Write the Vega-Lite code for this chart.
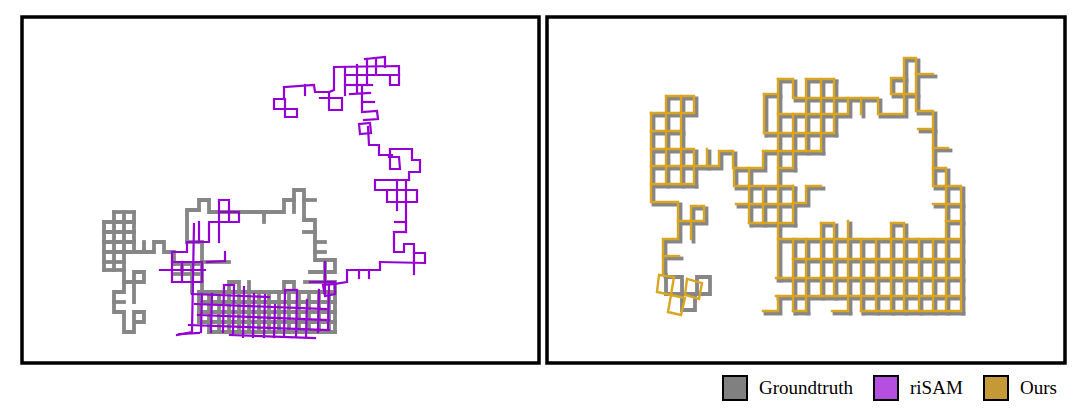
{
"$schema": "https://vega.github.io/schema/vega-lite/v6.json",
"autosize": "pad",
"padding": {"left": 20, "top": 15, "right": 0, "bottom": 0},
"bounds": "flush",
"spacing": 8,
"config": {"view": {"stroke": "black", "strokeWidth": 3.5}, "line": {"strokeCap": "square"}},
"datasets": {
"Lg": [
{"i":1,"x":102,"y":220},{"i":1,"x":102,"y":268},
{"i":2,"x":112,"y":210},{"i":2,"x":112,"y":268},
{"i":3,"x":122,"y":210},{"i":3,"x":122,"y":290},{"i":3,"x":112,"y":290},{"i":3,"x":112,"y":310},{"i":3,"x":122,"y":310},{"i":3,"x":122,"y":330},{"i":3,"x":132,"y":330},{"i":3,"x":132,"y":310},{"i":3,"x":142,"y":310},{"i":3,"x":142,"y":320},{"i":3,"x":132,"y":320},
{"i":4,"x":132,"y":210},{"i":4,"x":132,"y":250},
{"i":5,"x":112,"y":210},{"i":5,"x":132,"y":210},
{"i":6,"x":102,"y":220},{"i":6,"x":132,"y":220},
{"i":7,"x":102,"y":230},{"i":7,"x":132,"y":230},
{"i":8,"x":102,"y":240},{"i":8,"x":132,"y":240},
{"i":9,"x":102,"y":250},{"i":9,"x":152,"y":250},{"i":9,"x":152,"y":240},{"i":9,"x":162,"y":240},{"i":9,"x":162,"y":250},{"i":9,"x":172,"y":250},{"i":9,"x":172,"y":262},
{"i":10,"x":102,"y":260},{"i":10,"x":122,"y":260},
{"i":11,"x":102,"y":268},{"i":11,"x":122,"y":268},
{"i":12,"x":142,"y":240},{"i":12,"x":142,"y":250},
{"i":13,"x":122,"y":280},{"i":13,"x":142,"y":280},{"i":13,"x":142,"y":270},{"i":13,"x":132,"y":270},{"i":13,"x":132,"y":300},
{"i":14,"x":112,"y":300},{"i":14,"x":122,"y":300},
{"i":15,"x":185,"y":240},{"i":15,"x":185,"y":208},{"i":15,"x":197,"y":208},{"i":15,"x":197,"y":198},{"i":15,"x":207,"y":198},{"i":15,"x":207,"y":210},{"i":15,"x":282,"y":210},{"i":15,"x":282,"y":198},{"i":15,"x":292,"y":198},{"i":15,"x":292,"y":188},{"i":15,"x":302,"y":188},{"i":15,"x":302,"y":218},{"i":15,"x":313,"y":218},{"i":15,"x":313,"y":258},{"i":15,"x":323,"y":258},{"i":15,"x":323,"y":280},{"i":15,"x":333,"y":280},{"i":15,"x":333,"y":330},
{"i":16,"x":262,"y":210},{"i":16,"x":262,"y":220},
{"i":18,"x":292,"y":198},{"i":18,"x":292,"y":210},
{"i":19,"x":302,"y":198},{"i":19,"x":313,"y":198},
{"i":20,"x":302,"y":230},{"i":20,"x":313,"y":230},
{"i":21,"x":313,"y":240},{"i":21,"x":323,"y":240},
{"i":22,"x":313,"y":250},{"i":22,"x":323,"y":250},
{"i":23,"x":323,"y":258},{"i":23,"x":333,"y":258},{"i":23,"x":333,"y":270},{"i":23,"x":308,"y":270},
{"i":25,"x":172,"y":262},{"i":25,"x":200,"y":262},
{"i":26,"x":172,"y":272},{"i":26,"x":200,"y":272},
{"i":27,"x":180,"y":262},{"i":27,"x":180,"y":272},
{"i":28,"x":190,"y":262},{"i":28,"x":190,"y":290},
{"i":29,"x":200,"y":240},{"i":29,"x":200,"y":290},
{"i":30,"x":185,"y":240},{"i":30,"x":200,"y":240},
{"i":31,"x":200,"y":260},{"i":31,"x":227,"y":260},
{"i":32,"x":197,"y":290},{"i":32,"x":333,"y":290},
{"i":33,"x":197,"y":300},{"i":33,"x":333,"y":300},
{"i":34,"x":197,"y":310},{"i":34,"x":333,"y":310},
{"i":35,"x":197,"y":320},{"i":35,"x":333,"y":320},
{"i":36,"x":207,"y":330},{"i":36,"x":333,"y":330},
{"i":37,"x":197,"y":290},{"i":37,"x":197,"y":320},
{"i":38,"x":207,"y":290},{"i":38,"x":207,"y":330},
{"i":39,"x":217,"y":290},{"i":39,"x":217,"y":330},
{"i":40,"x":227,"y":290},{"i":40,"x":227,"y":330},
{"i":41,"x":237,"y":290},{"i":41,"x":237,"y":330},
{"i":42,"x":247,"y":290},{"i":42,"x":247,"y":330},
{"i":43,"x":257,"y":290},{"i":43,"x":257,"y":330},
{"i":44,"x":267,"y":290},{"i":44,"x":267,"y":330},
{"i":45,"x":277,"y":290},{"i":45,"x":277,"y":330},
{"i":46,"x":287,"y":290},{"i":46,"x":287,"y":330},
{"i":47,"x":297,"y":290},{"i":47,"x":297,"y":330},
{"i":48,"x":307,"y":290},{"i":48,"x":307,"y":330},
{"i":49,"x":317,"y":290},{"i":49,"x":317,"y":330},
{"i":50,"x":327,"y":290},{"i":50,"x":327,"y":330},
{"i":51,"x":227,"y":290},{"i":51,"x":227,"y":280},{"i":51,"x":237,"y":280},{"i":51,"x":237,"y":290},
{"i":52,"x":247,"y":280},{"i":52,"x":247,"y":290},
{"i":53,"x":282,"y":290},{"i":53,"x":282,"y":280},{"i":53,"x":292,"y":280},{"i":53,"x":292,"y":290},
{"i":55,"x":303,"y":280},{"i":55,"x":323,"y":280}
],
"Lp": [
{"i":1,"x":282,"y":85},{"i":1,"x":312,"y":83},{"i":1,"x":313,"y":90},{"i":1,"x":327,"y":90},{"i":1,"x":327,"y":108},{"i":1,"x":340,"y":108},{"i":1,"x":340,"y":96},{"i":1,"x":318,"y":96},
{"i":2,"x":282,"y":85},{"i":2,"x":282,"y":97},{"i":2,"x":272,"y":97},{"i":2,"x":272,"y":107},{"i":2,"x":295,"y":107},{"i":2,"x":295,"y":115},{"i":2,"x":283,"y":115},{"i":2,"x":283,"y":97},
{"i":3,"x":303,"y":83},{"i":3,"x":303,"y":93},
{"i":4,"x":327,"y":90},{"i":4,"x":332,"y":88},{"i":4,"x":332,"y":65},{"i":4,"x":397,"y":64},{"i":4,"x":397,"y":83},{"i":4,"x":388,"y":83},{"i":4,"x":388,"y":73},
{"i":5,"x":343,"y":65},{"i":5,"x":343,"y":93},
{"i":6,"x":355,"y":63},{"i":6,"x":355,"y":90},
{"i":7,"x":365,"y":57},{"i":7,"x":365,"y":83},
{"i":8,"x":374,"y":57},{"i":8,"x":374,"y":73},
{"i":9,"x":363,"y":57},{"i":9,"x":383,"y":55},{"i":9,"x":383,"y":65},
{"i":10,"x":343,"y":73},{"i":10,"x":397,"y":73},
{"i":11,"x":343,"y":83},{"i":11,"x":370,"y":83},
{"i":12,"x":348,"y":92},{"i":12,"x":368,"y":91},
{"i":13,"x":360,"y":83},{"i":13,"x":360,"y":110},{"i":13,"x":375,"y":109},{"i":13,"x":376,"y":117},{"i":13,"x":362,"y":118},
{"i":14,"x":360,"y":100},{"i":14,"x":372,"y":100},
{"i":15,"x":357,"y":122},{"i":15,"x":368,"y":121},{"i":15,"x":369,"y":131},{"i":15,"x":358,"y":132},{"i":15,"x":357,"y":122},
{"i":16,"x":366,"y":125},{"i":16,"x":367,"y":143},{"i":16,"x":377,"y":143},{"i":16,"x":377,"y":153},{"i":16,"x":390,"y":153},
{"i":17,"x":388,"y":147},{"i":17,"x":388,"y":167},{"i":17,"x":398,"y":167},{"i":17,"x":397,"y":155},{"i":17,"x":387,"y":155},
{"i":18,"x":388,"y":147},{"i":18,"x":410,"y":147},{"i":18,"x":410,"y":158},{"i":18,"x":418,"y":158},{"i":18,"x":418,"y":170},{"i":18,"x":407,"y":170},{"i":18,"x":407,"y":178},
{"i":19,"x":407,"y":178},{"i":19,"x":373,"y":178},{"i":19,"x":373,"y":188},{"i":19,"x":415,"y":188},{"i":19,"x":415,"y":200},{"i":19,"x":385,"y":200},{"i":19,"x":385,"y":188},
{"i":20,"x":395,"y":178},{"i":20,"x":395,"y":208},
{"i":21,"x":404,"y":178},{"i":21,"x":404,"y":230},
{"i":22,"x":393,"y":220},{"i":22,"x":404,"y":220},
{"i":23,"x":392,"y":230},{"i":23,"x":404,"y":230},
{"i":24,"x":392,"y":230},{"i":24,"x":392,"y":250},{"i":24,"x":402,"y":250},{"i":24,"x":402,"y":242},{"i":24,"x":412,"y":242},{"i":24,"x":412,"y":251},{"i":24,"x":423,"y":251},{"i":24,"x":423,"y":261},{"i":24,"x":378,"y":260},
{"i":25,"x":412,"y":251},{"i":25,"x":412,"y":272},
{"i":26,"x":378,"y":260},{"i":26,"x":378,"y":268},{"i":26,"x":345,"y":268},{"i":26,"x":345,"y":280},
{"i":27,"x":357,"y":268},{"i":27,"x":357,"y":276},
{"i":28,"x":367,"y":268},{"i":28,"x":367,"y":276},
{"i":29,"x":345,"y":280},{"i":29,"x":333,"y":282},{"i":29,"x":333,"y":292},{"i":29,"x":323,"y":294},{"i":29,"x":321,"y":283},{"i":29,"x":333,"y":282},
{"i":30,"x":323,"y":260},{"i":30,"x":323,"y":292},
{"i":31,"x":308,"y":280},{"i":31,"x":333,"y":280},
{"i":32,"x":217,"y":198},{"i":32,"x":227,"y":198},{"i":32,"x":227,"y":220},
{"i":33,"x":217,"y":198},{"i":33,"x":217,"y":240},
{"i":34,"x":217,"y":210},{"i":34,"x":237,"y":210},{"i":34,"x":237,"y":220},{"i":34,"x":207,"y":220},{"i":34,"x":207,"y":240},{"i":34,"x":185,"y":240},{"i":34,"x":185,"y":250},{"i":34,"x":170,"y":250},{"i":34,"x":170,"y":280},
{"i":35,"x":197,"y":220},{"i":35,"x":197,"y":240},
{"i":36,"x":158,"y":268},{"i":36,"x":203,"y":268},
{"i":37,"x":170,"y":280},{"i":37,"x":200,"y":280},
{"i":38,"x":170,"y":260},{"i":38,"x":200,"y":260},
{"i":39,"x":180,"y":260},{"i":39,"x":180,"y":280},
{"i":40,"x":200,"y":260},{"i":40,"x":200,"y":280},
{"i":41,"x":205,"y":260},{"i":41,"x":223,"y":259},{"i":41,"x":223,"y":250},
{"i":42,"x":192,"y":222},{"i":42,"x":190,"y":330},{"i":42,"x":175,"y":333},
{"i":43,"x":190,"y":292},{"i":43,"x":267,"y":295},
{"i":44,"x":193,"y":302},{"i":44,"x":325,"y":307},
{"i":45,"x":196,"y":313},{"i":45,"x":327,"y":318},
{"i":46,"x":187,"y":323},{"i":46,"x":327,"y":328},
{"i":47,"x":228,"y":333},{"i":47,"x":313,"y":336},
{"i":48,"x":200,"y":292},{"i":48,"x":199,"y":330},
{"i":49,"x":210,"y":292},{"i":49,"x":209,"y":330},
{"i":50,"x":222,"y":283},{"i":50,"x":221,"y":330},
{"i":51,"x":232,"y":283},{"i":51,"x":231,"y":333},
{"i":52,"x":242,"y":285},{"i":52,"x":241,"y":335},
{"i":53,"x":252,"y":292},{"i":53,"x":251,"y":335},
{"i":54,"x":263,"y":293},{"i":54,"x":262,"y":335},
{"i":55,"x":273,"y":303},{"i":55,"x":272,"y":335},
{"i":56,"x":283,"y":288},{"i":56,"x":282,"y":335},
{"i":57,"x":295,"y":288},{"i":57,"x":294,"y":335},
{"i":58,"x":305,"y":298},{"i":58,"x":304,"y":335},
{"i":59,"x":317,"y":288},{"i":59,"x":316,"y":330},
{"i":60,"x":327,"y":283},{"i":60,"x":326,"y":328},
{"i":61,"x":222,"y":283},{"i":61,"x":232,"y":283},
{"i":62,"x":283,"y":288},{"i":62,"x":295,"y":288},
{"i":63,"x":177,"y":332},{"i":63,"x":197,"y":331}
],
"Rb": [
{"i":1,"x":650,"y":112},{"i":1,"x":650,"y":201},{"i":1,"x":677,"y":201},{"i":1,"x":677,"y":238},{"i":1,"x":662,"y":238},{"i":1,"x":662,"y":273},
{"i":2,"x":665,"y":95},{"i":2,"x":665,"y":183},
{"i":3,"x":680,"y":95},{"i":3,"x":680,"y":183},
{"i":4,"x":665,"y":95},{"i":4,"x":693,"y":95},{"i":4,"x":693,"y":112},{"i":4,"x":650,"y":112},
{"i":5,"x":650,"y":130},{"i":5,"x":680,"y":130},
{"i":6,"x":650,"y":148},{"i":6,"x":693,"y":148},{"i":6,"x":693,"y":183},
{"i":7,"x":650,"y":165},{"i":7,"x":718,"y":165},{"i":7,"x":718,"y":150},{"i":7,"x":732,"y":150},{"i":7,"x":732,"y":167},{"i":7,"x":762,"y":167},{"i":7,"x":762,"y":150},{"i":7,"x":820,"y":150},
{"i":8,"x":650,"y":183},{"i":8,"x":693,"y":183},
{"i":9,"x":706,"y":148},{"i":9,"x":706,"y":165},
{"i":10,"x":733,"y":167},{"i":10,"x":733,"y":185},{"i":10,"x":748,"y":185},
{"i":11,"x":748,"y":167},{"i":11,"x":748,"y":222},
{"i":12,"x":748,"y":185},{"i":12,"x":792,"y":185},
{"i":13,"x":792,"y":202},{"i":13,"x":805,"y":202},{"i":13,"x":805,"y":185},{"i":13,"x":820,"y":185},
{"i":14,"x":735,"y":203},{"i":14,"x":792,"y":203},
{"i":15,"x":748,"y":222},{"i":15,"x":792,"y":222},
{"i":16,"x":762,"y":185},{"i":16,"x":762,"y":222},
{"i":17,"x":777,"y":78},{"i":17,"x":777,"y":277},
{"i":18,"x":792,"y":113},{"i":18,"x":792,"y":167},
{"i":19,"x":792,"y":185},{"i":19,"x":792,"y":222},
{"i":20,"x":763,"y":93},{"i":20,"x":763,"y":132},
{"i":21,"x":763,"y":93},{"i":21,"x":777,"y":93},
{"i":22,"x":777,"y":78},{"i":22,"x":792,"y":78},{"i":22,"x":792,"y":97},{"i":22,"x":877,"y":97},{"i":22,"x":877,"y":113},{"i":22,"x":903,"y":113},{"i":22,"x":903,"y":57},{"i":22,"x":915,"y":57},{"i":22,"x":915,"y":110},{"i":22,"x":932,"y":110},{"i":22,"x":932,"y":167},{"i":22,"x":945,"y":167},{"i":22,"x":945,"y":238},
{"i":23,"x":805,"y":78},{"i":23,"x":833,"y":78},
{"i":24,"x":805,"y":78},{"i":24,"x":805,"y":150},
{"i":25,"x":820,"y":78},{"i":25,"x":820,"y":150},
{"i":26,"x":833,"y":78},{"i":26,"x":833,"y":132},
{"i":27,"x":777,"y":113},{"i":27,"x":847,"y":113},{"i":27,"x":847,"y":97},
{"i":28,"x":763,"y":132},{"i":28,"x":833,"y":132},
{"i":29,"x":860,"y":97},{"i":29,"x":860,"y":113},
{"i":30,"x":903,"y":77},{"i":30,"x":890,"y":77},{"i":30,"x":890,"y":93},{"i":30,"x":915,"y":93},
{"i":31,"x":915,"y":73},{"i":31,"x":932,"y":73},
{"i":32,"x":917,"y":128},{"i":32,"x":932,"y":128},
{"i":33,"x":932,"y":147},{"i":33,"x":947,"y":147},
{"i":34,"x":932,"y":167},{"i":34,"x":932,"y":185},{"i":34,"x":960,"y":185},{"i":34,"x":960,"y":310},
{"i":35,"x":932,"y":203},{"i":35,"x":960,"y":203},
{"i":36,"x":945,"y":220},{"i":36,"x":960,"y":220},
{"i":37,"x":777,"y":167},{"i":37,"x":792,"y":167},
{"i":38,"x":677,"y":220},{"i":38,"x":703,"y":220},{"i":38,"x":703,"y":205},{"i":38,"x":690,"y":205},{"i":38,"x":690,"y":238},
{"i":39,"x":662,"y":255},{"i":39,"x":678,"y":255},
{"i":40,"x":777,"y":238},{"i":40,"x":960,"y":238},
{"i":41,"x":792,"y":258},{"i":41,"x":960,"y":258},
{"i":42,"x":775,"y":277},{"i":42,"x":960,"y":277},
{"i":43,"x":775,"y":295},{"i":43,"x":960,"y":295},
{"i":44,"x":860,"y":310},{"i":44,"x":960,"y":310},
{"i":45,"x":792,"y":310},{"i":45,"x":805,"y":310},
{"i":46,"x":831,"y":310},{"i":46,"x":847,"y":310},
{"i":47,"x":762,"y":310},{"i":47,"x":777,"y":310},{"i":47,"x":777,"y":295},
{"i":48,"x":792,"y":238},{"i":48,"x":792,"y":310},
{"i":49,"x":805,"y":238},{"i":49,"x":805,"y":310},
{"i":50,"x":820,"y":222},{"i":50,"x":833,"y":222},{"i":50,"x":833,"y":295},
{"i":51,"x":820,"y":222},{"i":51,"x":820,"y":295},
{"i":52,"x":847,"y":220},{"i":52,"x":847,"y":310},
{"i":53,"x":860,"y":238},{"i":53,"x":860,"y":310},
{"i":54,"x":875,"y":238},{"i":54,"x":875,"y":310},
{"i":55,"x":890,"y":310},{"i":55,"x":890,"y":222},{"i":55,"x":903,"y":222},{"i":55,"x":903,"y":310},
{"i":56,"x":918,"y":238},{"i":56,"x":918,"y":310},
{"i":57,"x":932,"y":238},{"i":57,"x":932,"y":310},
{"i":58,"x":945,"y":238},{"i":58,"x":945,"y":310}
],
"Rg": [
{"i":1,"x":664,"y":273},{"i":1,"x":664,"y":292},{"i":1,"x":680,"y":292},{"i":1,"x":680,"y":275},{"i":1,"x":664,"y":275},
{"i":2,"x":680,"y":292},{"i":2,"x":680,"y":308},{"i":2,"x":693,"y":308},{"i":2,"x":693,"y":292},{"i":2,"x":680,"y":292},
{"i":3,"x":693,"y":292},{"i":3,"x":708,"y":292},{"i":3,"x":708,"y":275},{"i":3,"x":695,"y":275},{"i":3,"x":695,"y":292}
],
"Ro": [
{"i":1,"x":657,"y":273},{"i":1,"x":672,"y":275},{"i":1,"x":669,"y":293},{"i":1,"x":655,"y":290},{"i":1,"x":657,"y":273},
{"i":2,"x":669,"y":293},{"i":2,"x":683,"y":296},{"i":2,"x":679,"y":313},{"i":2,"x":666,"y":310},{"i":2,"x":669,"y":293},
{"i":3,"x":685,"y":277},{"i":3,"x":700,"y":281},{"i":3,"x":697,"y":297},{"i":3,"x":683,"y":293},{"i":3,"x":685,"y":277}
]
},
"hconcat": [
{
"width": 517, "height": 346,
"encoding": {
"x": {"field": "x", "type": "quantitative", "scale": {"domain": [20, 537], "nice": false, "zero": false}, "axis": null},
"y": {"field": "y", "type": "quantitative", "scale": {"domain": [15, 361], "nice": false, "zero": false, "reverse": true}, "axis": null}
},
"layer": [
{"data": {"name": "Lg"}, "mark": {"type": "line", "color": "#868686", "strokeWidth": 3.8}, "encoding": {"detail": {"field": "i", "type": "nominal"}, "order": {"value": null}}},
{"data": {"name": "Lp"}, "mark": {"type": "line", "color": "#9400d3", "strokeWidth": 2.2}, "encoding": {"detail": {"field": "i", "type": "nominal"}, "order": {"value": null}}}
]
},
{
"width": 518, "height": 346,
"encoding": {
"x": {"field": "x", "type": "quantitative", "scale": {"domain": [545, 1063], "nice": false, "zero": false}, "axis": null},
"y": {"field": "y", "type": "quantitative", "scale": {"domain": [15, 361], "nice": false, "zero": false, "reverse": true}, "axis": null}
},
"layer": [
{"data": {"name": "Rb"}, "mark": {"type": "line", "color": "#868686", "strokeWidth": 3.8, "xOffset": 1.5, "yOffset": 1.5}, "encoding": {"detail": {"field": "i", "type": "nominal"}, "order": {"value": null}}},
{"data": {"name": "Rg"}, "mark": {"type": "line", "color": "#868686", "strokeWidth": 3.8}, "encoding": {"detail": {"field": "i", "type": "nominal"}, "order": {"value": null}}},
{"data": {"name": "Rb"}, "mark": {"type": "line", "color": "#daa520", "strokeWidth": 2.4, "xOffset": -1, "yOffset": -1}, "encoding": {"detail": {"field": "i", "type": "nominal"}, "order": {"value": null}}},
{"data": {"name": "Ro"}, "mark": {"type": "line", "color": "#daa520", "strokeWidth": 2.4}, "encoding": {"detail": {"field": "i", "type": "nominal"}, "order": {"value": null}}},
{"data": {"values": [{"s": "Groundtruth"}, {"s": "riSAM"}, {"s": "Ours"}]},
 "mark": {"type": "square", "filled": true},
 "encoding": {"color": {"field": "s", "type": "nominal",
   "scale": {"domain": ["Groundtruth", "riSAM", "Ours"], "range": ["#808080", "#b44fe0", "#c49a36"]},
   "legend": {"orient": "none", "legendX": 700, "legendY": 358, "direction": "horizontal", "title": null,
     "symbolType": "square", "symbolSize": 576, "symbolStrokeColor": "black", "symbolStrokeWidth": 2, "symbolOpacity": 1,
     "labelFont": "Liberation Serif", "labelFontSize": 19, "labelColor": "black", "labelOffset": 11, "columnPadding": 17}}}}
]
}
],
"resolve": {"scale": {"x": "independent", "y": "independent"}}
}
